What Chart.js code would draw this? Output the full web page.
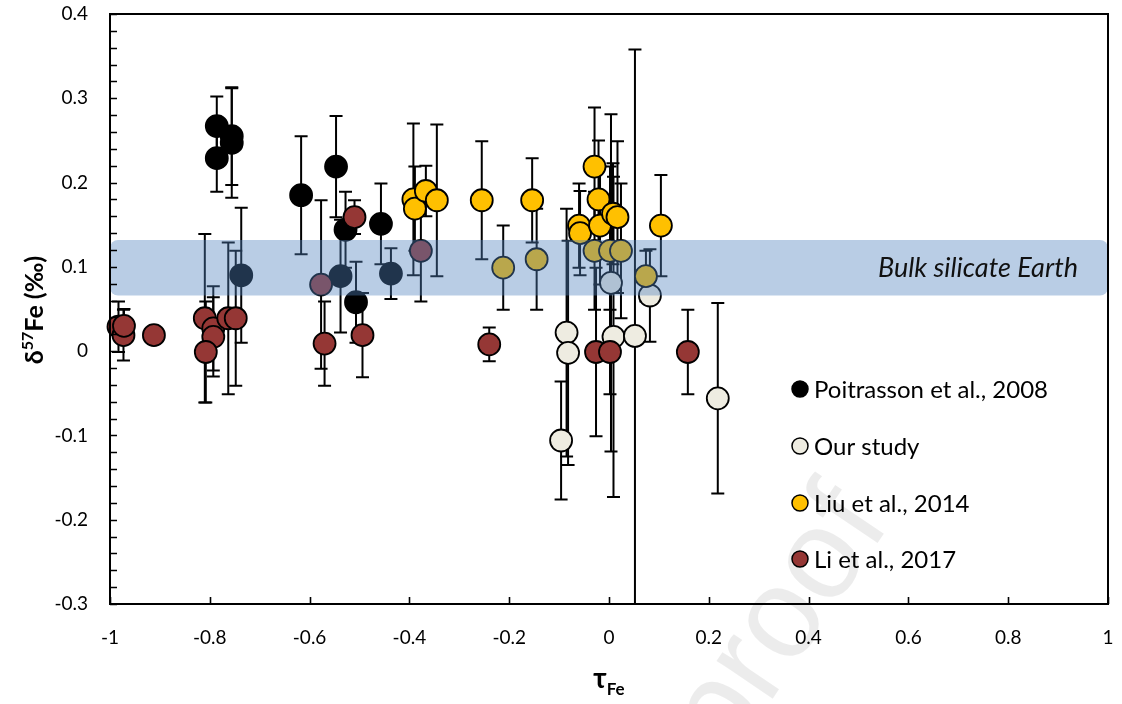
<!DOCTYPE html>
<html>
<head>
<meta charset="utf-8">
<script src="https://cdn.jsdelivr.net/npm/chart.js@4.4.1/dist/chart.umd.min.js"></script>
<style>
  html, body { margin: 0; padding: 0; background: #fff; }
  #wrap { width: 1122px; height: 704px; }
</style>
</head>
<body>
<div id="wrap"><canvas id="chart-fe"></canvas></div>
<script>
// tau Fe vs d57Fe
const xTicks = [-1, -0.8, -0.6, -0.4, -0.2, 0, 0.2, 0.4, 0.6, 0.8, 1];
const yTicks = [-0.3, -0.2, -0.1, 0, 0.1, 0.2, 0.3, 0.4];

const seriesNames = ['Poitrasson et al., 2008', 'Our study', 'Liu et al., 2014', 'Li et al., 2017'];

const poiX = [-0.786, -0.786, -0.756, -0.756, -0.617, -0.547, -0.528, -0.457, -0.507, -0.737, -0.538, -0.437];
const poiY = [0.267, 0.229, 0.255, 0.247, 0.185, 0.219, 0.144, 0.151, 0.058, 0.090, 0.089, 0.092];
const poiErr = [0.035, 0.04, 0.058, 0.065, 0.07, 0.06, 0.045, 0.048, 0.048, 0.08, 0.067, 0.03];

const ourX = [0.082, -0.085, -0.082, 0.009, 0.052, -0.096, 0.218, 0.004];
const ourY = [0.066, 0.022, -0.002, 0.017, 0.018, -0.106, -0.056, 0.081];
const ourErr = [0.055, 0.147, 0.133, 0.19, 0.34, 0.07, 0.113, 0.2];

const liuX = [-0.392, -0.389, -0.367, -0.345, -0.255, -0.154, -0.029, -0.021, -0.060, -0.058, -0.018, 0.008, 0.017, 0.104, -0.212, -0.145, -0.029, 0.002, 0.024, 0.074];
const liuY = [0.180, 0.169, 0.190, 0.179, 0.179, 0.179, 0.219, 0.180, 0.149, 0.140, 0.149, 0.163, 0.159, 0.149, 0.099, 0.109, 0.119, 0.119, 0.119, 0.089];
const liuErr = [0.09, 0.05, 0.03, 0.09, 0.07, 0.05, 0.07, 0.07, 0.05, 0.05, 0.07, 0.06, 0.09, 0.06, 0.05, 0.06, 0.07, 0.1, 0.08, 0.03];

const liX = [-0.983, -0.973, -0.972, -0.912, -0.810, -0.793, -0.793, -0.808, -0.763, -0.748, -0.510, -0.577, -0.570, -0.494, -0.377, -0.240, -0.026, 0.002, 0.158];
const liY = [0.029, 0.019, 0.030, 0.019, 0.039, 0.027, 0.017, -0.001, 0.039, 0.039, 0.159, 0.079, 0.009, 0.019, 0.119, 0.008, -0.001, -0.001, -0.001];
const liErr = [0.03, 0.03, 0.02, 0, 0.1, 0.05, 0.047, 0.06, 0.09, 0.08, 0.02, 0.1, 0.05, 0.05, 0.06, 0.02, 0.1, 0.05, 0.05];

// faixa BSE
const bseRange = [0.066, 0.132];
const bseLabel = 'Bulk silicate Earth';

const colors = ['#000000', '#eeece1', '#ffc000', '#953735'];

function toPoints(xs, ys, errs) {
  return xs.map((x, i) => ({ x: x, y: ys[i], err: errs[i] }));
}

const FONT = "Lato, 'Liberation Sans', 'DejaVu Sans', sans-serif";

const decoPlugin = {
  id: 'decoPlugin',
  beforeDraw(chart) {
    // marca d'água
    const ctx = chart.ctx;
    ctx.save();
    ctx.translate(728, 765);
    ctx.rotate(-56 * Math.PI / 180);
    ctx.font = "128px 'Liberation Sans', sans-serif";
    ctx.fillStyle = 'rgba(0,0,0,0.075)';
    ctx.textBaseline = 'alphabetic';
    ctx.fillText('proof', 0, 0);
    ctx.restore();
  },
  beforeDatasetsDraw(chart) {
    // barras de erro
    const ctx = chart.ctx;
    const a = chart.chartArea;
    const xs = chart.scales.x, ys = chart.scales.y;
    ctx.save();
    ctx.beginPath();
    ctx.rect(a.left, a.top, a.right - a.left, a.bottom - a.top);
    ctx.clip();
    ctx.strokeStyle = '#000';
    ctx.lineWidth = 2;
    chart.data.datasets.forEach(ds => {
      ds.data.forEach(p => {
        if (!p.err) return;
        const px = xs.getPixelForValue(p.x);
        const top = ys.getPixelForValue(p.y + p.err);
        const bot = ys.getPixelForValue(p.y - p.err);
        ctx.beginPath();
        ctx.moveTo(px, top); ctx.lineTo(px, bot);
        ctx.moveTo(px - 6.5, top); ctx.lineTo(px + 6.5, top);
        ctx.moveTo(px - 6.5, bot); ctx.lineTo(px + 6.5, bot);
        ctx.stroke();
      });
    });
    ctx.restore();
  },
  afterDatasetsDraw(chart) {
    const ctx = chart.ctx;
    const a = chart.chartArea;
    const xs = chart.scales.x, ys = chart.scales.y;

    // faixa azul por cima dos pontos
    const yTop = ys.getPixelForValue(bseRange[1]);
    const yBot = ys.getPixelForValue(bseRange[0]);
    ctx.save();
    ctx.fillStyle = 'rgba(79,129,189,0.4)';
    ctx.beginPath();
    ctx.roundRect(a.left, yTop, a.right - a.left, yBot - yTop, 8);
    ctx.fill();
    ctx.fillStyle = '#111';
    ctx.font = "italic 27px " + FONT;
    ctx.textAlign = 'right';
    ctx.textBaseline = 'middle';
    ctx.fillText(bseLabel, 1078, (yTop + yBot) / 2 + 1);
    ctx.restore();

    // moldura e ticks
    ctx.save();
    ctx.strokeStyle = '#000';
    ctx.lineWidth = 2;
    ctx.strokeRect(a.left, a.top, a.right - a.left, a.bottom - a.top);
    ctx.lineWidth = 1.6;
    ctx.beginPath();
    for (let i = 0; i <= 35; i++) {
      const v = -0.3 + i * 0.02;
      const py = Math.round(ys.getPixelForValue(v)) + 0.5;
      ctx.moveTo(a.left, py); ctx.lineTo(a.left + 7, py);
    }
    xTicks.forEach(v => {
      const px = Math.round(xs.getPixelForValue(v)) + 0.5;
      ctx.moveTo(px, a.bottom); ctx.lineTo(px, a.bottom - 7);
    });
    ctx.stroke();
    ctx.restore();

    // legenda
    ctx.save();
    ctx.font = "24px " + FONT;
    ctx.textBaseline = 'middle';
    ctx.fillStyle = '#000';
    const legY = [389, 446, 503, 559];
    seriesNames.forEach((name, i) => {
      ctx.beginPath();
      ctx.arc(800, legY[i], 8, 0, Math.PI * 2);
      ctx.fillStyle = colors[i];
      ctx.fill();
      ctx.lineWidth = 1.5;
      ctx.strokeStyle = '#000';
      ctx.stroke();
      ctx.fillStyle = '#000';
      ctx.fillText(name, 814, legY[i] + 1);
    });
    ctx.restore();

    // títulos dos eixos
    ctx.save();
    ctx.fillStyle = '#000';
    ctx.textBaseline = 'alphabetic';
    ctx.translate(43, 310);
    ctx.rotate(-Math.PI / 2);
    const big = "bold 25px " + FONT, small = "bold 16px " + FONT;
    ctx.font = big; const w1 = ctx.measureText('δ').width;
    ctx.font = small; const w2 = ctx.measureText('57').width;
    ctx.font = big; const w3 = ctx.measureText('Fe (‰)').width;
    let x0 = -(w1 + w2 + w3) / 2;
    ctx.font = big; ctx.fillText('δ', x0, 0);
    ctx.font = small; ctx.fillText('57', x0 + w1, -10);
    ctx.font = big; ctx.fillText('Fe (‰)', x0 + w1 + w2, 0);
    ctx.restore();

    ctx.save();
    ctx.fillStyle = '#000';
    ctx.textBaseline = 'alphabetic';
    ctx.font = "bold 28px " + FONT; const t1 = ctx.measureText('τ').width;
    ctx.font = "bold 17px " + FONT; const t2 = ctx.measureText('Fe').width;
    const tx = 609 - (t1 + t2) / 2;
    ctx.font = "bold 28px " + FONT; ctx.fillText('τ', tx, 688);
    ctx.font = "bold 17px " + FONT; ctx.fillText('Fe', tx + t1, 695);
    ctx.restore();
  }
};

function makeSet(i, xs, ys, errs) {
  return {
    label: seriesNames[i],
    data: toPoints(xs, ys, errs),
    backgroundColor: colors[i],
    borderColor: '#000',
    borderWidth: 1.8,
    pointRadius: 11,
    pointHoverRadius: 11,
    order: 4 - i,
    clip: false
  };
}

let feChart;
function createFeChart() {
  const ctx = document.getElementById('chart-fe').getContext('2d');
  feChart = new Chart(ctx, {
    type: 'scatter',
    data: {
      datasets: [
        makeSet(0, poiX, poiY, poiErr),
        makeSet(1, ourX, ourY, ourErr),
        makeSet(2, liuX, liuY, liuErr),
        makeSet(3, liX, liY, liErr)
      ]
    },
    options: {
      responsive: true,
      maintainAspectRatio: false,
      animation: false,
      layout: { padding: { top: 14, right: 14, left: 0, bottom: 0 } },
      plugins: {
        legend: { display: false },
        tooltip: { enabled: false }
      },
      scales: {
        x: {
          type: 'linear',
          min: -1, max: 1,
          afterBuildTicks: s => { s.ticks = xTicks.map(v => ({ value: v })); },
          afterFit: s => { s.height = 100; s.paddingLeft = 0; s.paddingRight = 0; },
          grid: { display: false },
          border: { display: false },
          ticks: {
            color: '#000',
            font: { family: FONT, size: 19 },
            padding: 14,
            maxRotation: 0,
            callback: v => String(Math.round(v * 10) / 10)
          }
        },
        y: {
          min: -0.3, max: 0.4,
          afterBuildTicks: s => { s.ticks = yTicks.map(v => ({ value: v })); },
          afterFit: s => { s.width = 110; s.paddingTop = 0; s.paddingBottom = 0; },
          grid: { display: false },
          border: { display: false },
          ticks: {
            color: '#000',
            font: { family: FONT, size: 19 },
            padding: 14,
            callback: v => String(Math.round(v * 10) / 10)
          }
        }
      }
    },
    plugins: [decoPlugin]
  });
}

createFeChart();
</script>
</body>
</html>
